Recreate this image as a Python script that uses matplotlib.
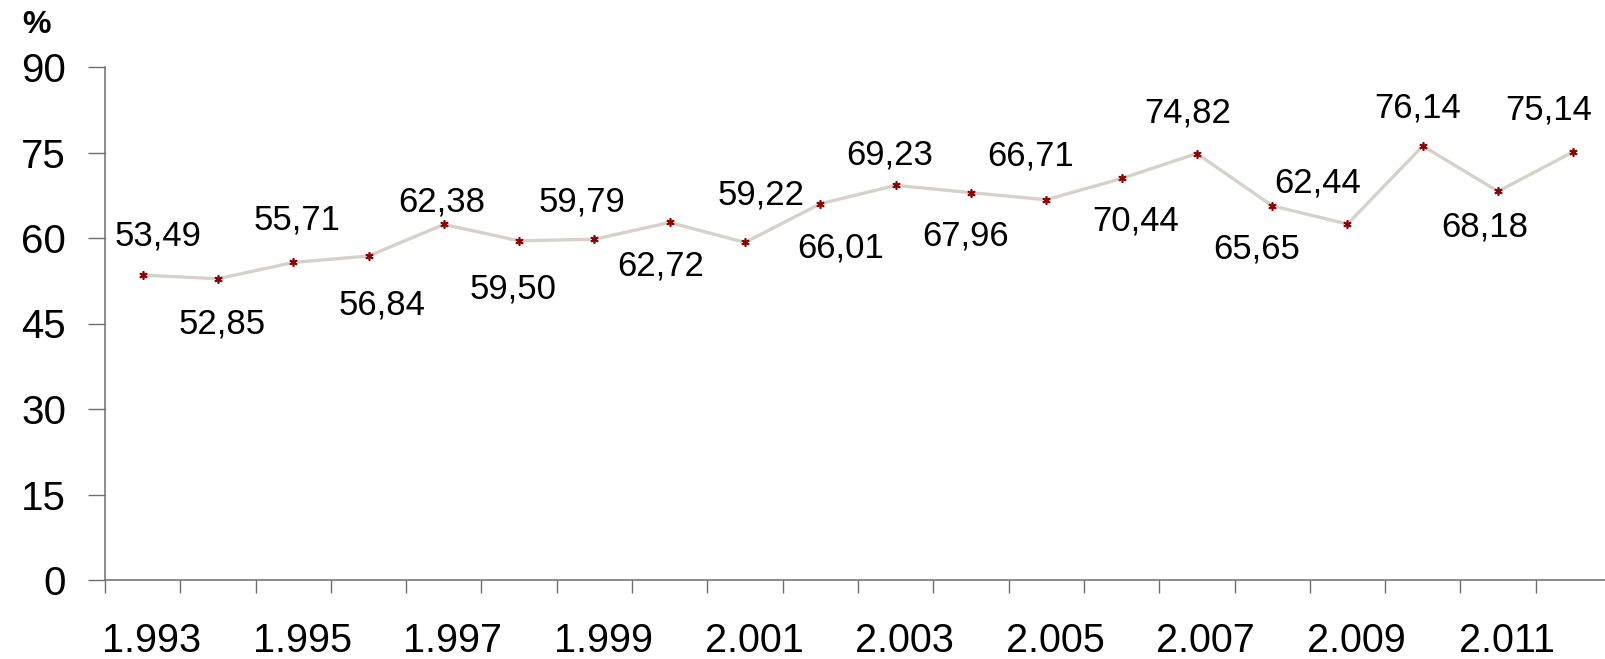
import matplotlib
matplotlib.use("Agg")
import matplotlib.pyplot as plt
import matplotlib.transforms as mtransforms
import numpy as np

plt.rcParams['font.family'] = ['Liberation Sans', 'DejaVu Sans']

# serie anual (%)
years = list(range(1993, 2013))
values = [53.49, 52.85, 55.71, 56.84, 62.38, 59.50, 59.79, 62.72, 59.22, 66.01,
          69.23, 67.96, 66.71, 70.44, 74.82, 65.65, 62.44, 76.14, 68.18, 75.14]

# desplazamiento de cada etiqueta respecto a su punto (pixeles)
label_dx = [15, 4, 4, 13, -2, -6, -12, -9, 16, 20,
            -6, -5, -16, 14, -9, -15, -30, -5, -13, -25]
label_dy = [39, -45, 42, -49, 22, -48, 37, -44, 47, -44,
            30, -43, 44, -43, 41, -43, 41, 38, -36, 42]

line_color = '#d6d2ca'
marker_color = '#8b0000'
axis_color = '#6e6e6e'

fig = plt.figure(figsize=(16.06, 6.59), dpi=100)
ax = fig.add_axes([105 / 1606, 79 / 659, 1506 / 1606, 513 / 659])

x = np.arange(len(years))
ax.plot(x, values, color=line_color, lw=2.4, zorder=2,
        marker=(6, 2, 0), markersize=6, markeredgewidth=1.2,
        markeredgecolor=marker_color, markerfacecolor=marker_color)

for xi, v, dx, dy in zip(x, values, label_dx, label_dy):
    ax.annotate(f"{v:.2f}".replace('.', ','), (xi, v),
                xytext=(dx, dy), textcoords='offset pixels',
                ha='center', va='center', fontsize=25, color='black')

ax.set_xlim(-0.5, len(years) - 0.5)
ax.set_ylim(0, 90)
ax.set_yticks(np.arange(0, 91, 15))

# etiquetas cada dos años, marcas entre categorías
ax.set_xticks(x[::2])
ax.set_xticklabels([f"{y // 1000}.{y % 1000:03d}" for y in years[::2]])
ax.set_xticks(np.arange(len(years)) - 0.5, minor=True)
ax.tick_params(axis='x', which='major', length=0, pad=30, labelsize=28.5)
ax.tick_params(axis='x', which='minor', length=9.5, width=1, color=axis_color,
               direction='out')
ax.tick_params(axis='y', length=12, width=1, color=axis_color, direction='out',
               pad=16, labelsize=29)

shift = mtransforms.ScaledTranslation(0.09, 0, fig.dpi_scale_trans)
for lbl in ax.get_xticklabels():
    lbl.set_transform(lbl.get_transform() + shift)

for side in ('top', 'right'):
    ax.spines[side].set_visible(False)
for side in ('left', 'bottom'):
    ax.spines[side].set_color(axis_color)
    ax.spines[side].set_linewidth(1.1)

fig.text(22 / 1606, 1 - 25 / 659, '%', fontsize=23, fontweight='bold',
         ha='left', va='center')

fig.savefig('out.png', dpi=100)
